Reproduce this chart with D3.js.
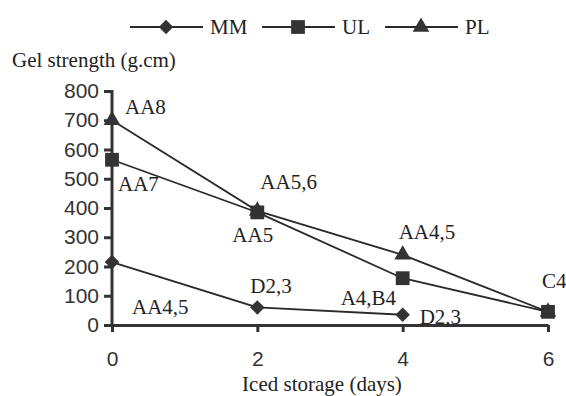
<!DOCTYPE html>
<html>
<head>
    <script src="https://d3js.org/d3.v7.min.js"></script>
    <style>
        body { margin: 0; background: #fff; }
    </style>
</head>
<body>
<div id="chart">
<svg width="566" height="396">
    <text x="12" y="67" font-family="Liberation Serif" font-size="21" fill="#222">Gel strength (g.cm)</text>
    <text x="322" y="391" font-family="Liberation Serif" font-size="21" fill="#222" text-anchor="middle">Iced storage (days)</text>
</svg>
</div>
<script>
    var days = [0, 2, 4, 6];
    var mm = [215, 60, 35, null];
    var ul = [565, 385, 160, 45];
    var pl = [700, 390, 240, 45];
    var yTicks = [0, 100, 200, 300, 400, 500, 600, 700, 800];

    // letters printed next to the points: [series, day, text, dx, dy]
    var notes = [
        [pl, 0, "AA8", 13, -6],
        [ul, 0, "AA7", 6, 31],
        [mm, 0, "AA4,5", 20, 52],
        [mm, 2, "D2,3", -7, -14],
        [mm, 4, "A4,B4", -62, -10],
        [mm, 4, "D2,3", 17, 9],
        [pl, 2, "AA5,6", 3, -22],
        [ul, 2, "AA5", -25, 30],
        [pl, 4, "AA4,5", -4, -16],
        [ul, 6, "C4", -6, -24]
    ];

    var svg = d3.select("#chart svg");

    var x = d3.scaleLinear().domain([0, 6]).range([112, 548]);
    var y = d3.scaleLinear().domain([0, 800]).range([325, 91]);

    // axes
    var yAxis = svg.append("g").attr("class", "axis")
        .attr("transform", "translate(" + x(0) + ",0)")
        .call(d3.axisLeft(y).tickValues(yTicks).tickSize(8).tickPadding(5).tickSizeOuter(0));
    var xAxis = svg.append("g").attr("class", "axis")
        .attr("transform", "translate(0," + y(0) + ")")
        .call(d3.axisBottom(x).tickValues(days).tickFormat(d3.format("d"))
            .tickSize(7).tickPadding(19).tickSizeOuter(0));
    svg.selectAll(".axis path, .axis line").attr("stroke", "#333").attr("stroke-width", 3);
    svg.selectAll(".axis text")
        .attr("font-family", "Liberation Sans")
        .attr("font-size", 21)
        .attr("fill", "#333");
    yAxis.select(".domain").attr("d", "M0," + (y(800) - 1) + "V" + y(0));

    function serifText(xp, yp, str) {
        return svg.append("text")
            .attr("x", xp).attr("y", yp)
            .attr("font-family", "Liberation Serif")
            .attr("font-size", 21)
            .attr("fill", "#222")
            .text(str);
    }

    var diamond = {
        draw: function(ctx, size) {
            var r = Math.sqrt(size) / 2;
            ctx.moveTo(0, -r); ctx.lineTo(r, 0); ctx.lineTo(0, r); ctx.lineTo(-r, 0); ctx.closePath();
        }
    };

    var series = [
        {name: "MM", values: mm, shape: diamond, size: 210},
        {name: "UL", values: ul, shape: d3.symbolSquare, size: 190},
        {name: "PL", values: pl, shape: d3.symbolTriangle, size: 120}
    ];

    var line = d3.line()
        .defined(function(d) { return d != null; })
        .x(function(d, i) { return x(days[i]); })
        .y(function(d) { return y(d); });

    series.forEach(function(s) {
        svg.append("path")
            .attr("d", line(s.values))
            .attr("fill", "none")
            .attr("stroke", "#2a2a2a")
            .attr("stroke-width", 1.8);
        svg.selectAll(null)
            .data(s.values.filter(function(d) { return d != null; }))
            .enter()
            .append("path")
            .attr("d", d3.symbol().type(s.shape).size(s.size))
            .attr("transform", function(d, i) { return "translate(" + x(days[i]) + "," + y(d) + ")"; })
            .attr("fill", "#333");
    });

    notes.forEach(function(n) {
        var i = days.indexOf(n[1]);
        serifText(x(n[1]) + n[3], y(n[0][i]) + n[4], n[2]);
    });

    // legend
    var legendX = [130, 262, 385];
    series.forEach(function(s, k) {
        var g = svg.append("g").attr("transform", "translate(" + legendX[k] + ",27)");
        g.append("line").attr("x1", 0).attr("x2", 73)
            .attr("stroke", "#2a2a2a").attr("stroke-width", 2);
        g.append("path")
            .attr("d", d3.symbol().type(s.shape).size(s.size))
            .attr("transform", "translate(36,0)")
            .attr("fill", "#333");
        serifText(legendX[k] + 80, 34, s.name);
    });
</script>
</body>
</html>
